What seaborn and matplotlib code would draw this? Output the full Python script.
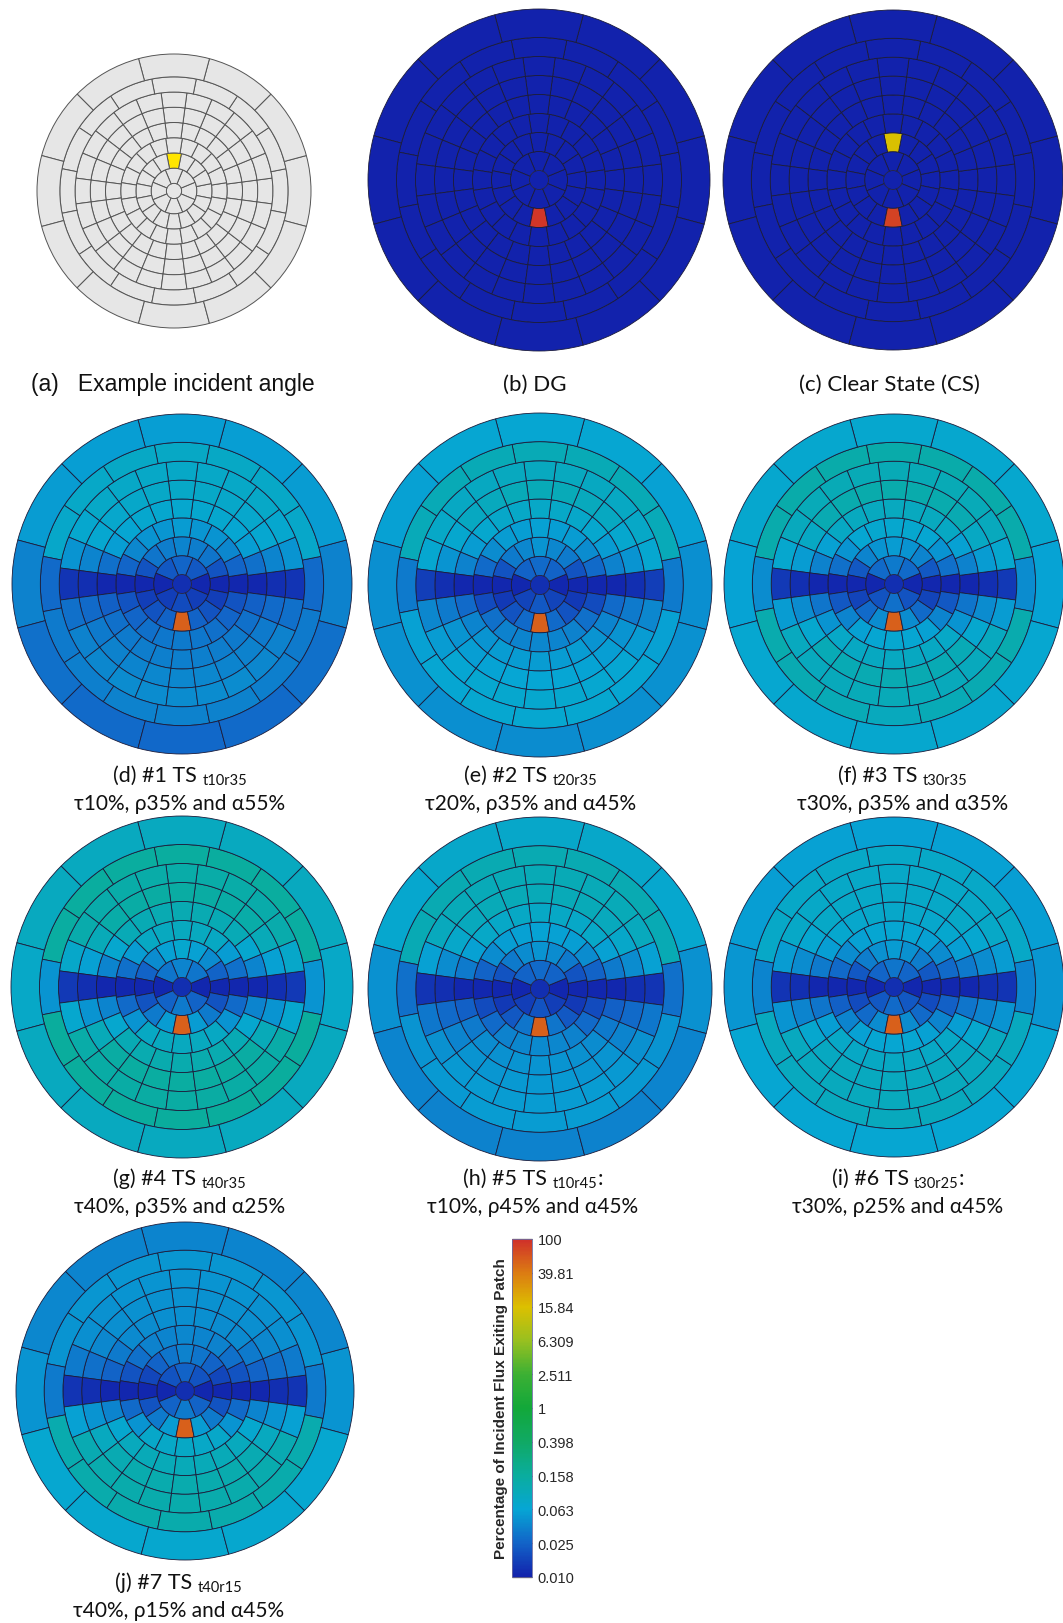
import numpy as np
import pandas as pd
import matplotlib
matplotlib.use("Agg")
import matplotlib.pyplot as plt
from matplotlib.colors import LogNorm
from matplotlib.cm import ScalarMappable
import seaborn as sns

sns.set_theme(style="white")
plt.rcParams["font.family"] = ["Lato", "Noto Sans", "DejaVu Sans"]

# ---------------------------------------------------------------------------
# Klems full basis: zenith-angle ring edges (deg) and patches per ring
klems_theta = [0, 5, 15, 25, 35, 45, 55, 65, 75, 90]
klems_nphi = [1, 8, 16, 20, 24, 24, 24, 16, 12]

# Colour bar scale (percentage of incident flux exiting patch)
cbar_ticks = [0.010, 0.025, 0.063, 0.158, 0.398, 1, 2.511, 6.309, 15.84, 39.81, 100]
cbar_labels = ["0.010", "0.025", "0.063", "0.158", "0.398", "1", "2.511",
               "6.309", "15.84", "39.81", "100"]
cbar_colors = ["#1222ac", "#1264c8", "#06a6d4", "#0aad9e", "#10a964", "#12a83a",
               "#3cb034", "#98c020", "#dcc000", "#dc7c12", "#d0302a"]

# Incident direction shown in panel (a): ring 3, patch at phi = 90 deg
incident_ring = 2
incident_patch = 4

# Double glazing
dg = [
    [0.010],
    [0.010] * 8,
    [0.010] * 12 + [90.0] + [0.010] * 3,
    [0.010] * 20,
    [0.010] * 24,
    [0.010] * 24,
    [0.010] * 24,
    [0.010] * 16,
    [0.010] * 12,
]

# Clear state
cs = [
    [0.010],
    [0.010] * 8,
    [0.010] * 4 + [15.0] + [0.010] * 7 + [80.0] + [0.010] * 3,
    [0.010] * 20,
    [0.010] * 24,
    [0.010] * 24,
    [0.010] * 24,
    [0.010] * 16,
    [0.010] * 12,
]

# #1 TS t10r35
ts1 = [
    [0.012],
    [0.011, 0.022, 0.026, 0.022, 0.011, 0.015, 0.018, 0.015],
    [0.011, 0.020, 0.032, 0.036, 0.040, 0.036, 0.032, 0.020, 0.011, 0.015, 0.020, 0.025, 55, 0.025, 0.020, 0.015],
    [0.011, 0.026, 0.042, 0.050, 0.052, 0.055, 0.052, 0.050, 0.042, 0.026, 0.011, 0.020, 0.026, 0.030, 0.033, 0.034, 0.033, 0.030, 0.026, 0.020],
    [0.011, 0.030, 0.058, 0.066, 0.070, 0.072, 0.072, 0.072, 0.070, 0.066, 0.058, 0.030, 0.011, 0.024, 0.030, 0.034, 0.036, 0.037, 0.037, 0.037, 0.036, 0.034, 0.030, 0.024],
    [0.012, 0.040, 0.068, 0.074, 0.076, 0.078, 0.078, 0.078, 0.076, 0.074, 0.068, 0.040, 0.012, 0.028, 0.034, 0.038, 0.040, 0.041, 0.041, 0.041, 0.040, 0.038, 0.034, 0.028],
    [0.013, 0.050, 0.072, 0.078, 0.080, 0.080, 0.080, 0.080, 0.080, 0.078, 0.072, 0.050, 0.013, 0.030, 0.038, 0.042, 0.044, 0.045, 0.045, 0.045, 0.044, 0.042, 0.038, 0.030],
    [0.028, 0.075, 0.080, 0.082, 0.082, 0.082, 0.080, 0.075, 0.028, 0.034, 0.037, 0.038, 0.038, 0.038, 0.037, 0.034],
    [0.038, 0.055, 0.058, 0.058, 0.058, 0.055, 0.038, 0.030, 0.028, 0.027, 0.028, 0.030],
]

# #2 TS t20r35
ts2 = [
    [0.012],
    [0.011, 0.025, 0.028, 0.025, 0.011, 0.016, 0.022, 0.016],
    [0.011, 0.020, 0.034, 0.042, 0.050, 0.042, 0.034, 0.020, 0.011, 0.014, 0.020, 0.028, 55, 0.028, 0.020, 0.014],
    [0.011, 0.028, 0.045, 0.055, 0.058, 0.060, 0.058, 0.055, 0.045, 0.028, 0.011, 0.018, 0.030, 0.038, 0.040, 0.042, 0.040, 0.038, 0.030, 0.018],
    [0.011, 0.038, 0.055, 0.072, 0.075, 0.078, 0.078, 0.078, 0.075, 0.072, 0.055, 0.038, 0.011, 0.028, 0.040, 0.050, 0.055, 0.056, 0.056, 0.056, 0.055, 0.050, 0.040, 0.028],
    [0.012, 0.050, 0.070, 0.088, 0.095, 0.100, 0.100, 0.100, 0.095, 0.088, 0.070, 0.050, 0.012, 0.035, 0.050, 0.058, 0.062, 0.063, 0.063, 0.063, 0.062, 0.058, 0.050, 0.035],
    [0.015, 0.068, 0.080, 0.085, 0.088, 0.090, 0.090, 0.090, 0.088, 0.085, 0.080, 0.068, 0.015, 0.042, 0.055, 0.066, 0.068, 0.070, 0.070, 0.070, 0.068, 0.066, 0.055, 0.042],
    [0.035, 0.100, 0.105, 0.105, 0.105, 0.105, 0.105, 0.100, 0.035, 0.060, 0.066, 0.068, 0.068, 0.068, 0.066, 0.060],
    [0.046, 0.060, 0.065, 0.065, 0.065, 0.060, 0.046, 0.048, 0.046, 0.045, 0.046, 0.048],
]

# #3 TS t30r35
ts3 = [
    [0.012],
    [0.011, 0.028, 0.035, 0.028, 0.011, 0.020, 0.030, 0.020],
    [0.011, 0.022, 0.040, 0.050, 0.055, 0.050, 0.040, 0.022, 0.011, 0.016, 0.028, 0.045, 55, 0.045, 0.028, 0.016],
    [0.011, 0.030, 0.050, 0.065, 0.070, 0.072, 0.070, 0.065, 0.050, 0.030, 0.011, 0.022, 0.040, 0.060, 0.065, 0.068, 0.065, 0.060, 0.040, 0.022],
    [0.011, 0.038, 0.060, 0.085, 0.090, 0.092, 0.092, 0.092, 0.090, 0.085, 0.060, 0.038, 0.011, 0.032, 0.050, 0.080, 0.085, 0.088, 0.088, 0.088, 0.085, 0.080, 0.050, 0.032],
    [0.012, 0.055, 0.085, 0.115, 0.120, 0.125, 0.125, 0.125, 0.120, 0.115, 0.085, 0.055, 0.012, 0.045, 0.070, 0.105, 0.110, 0.112, 0.112, 0.112, 0.110, 0.105, 0.070, 0.045],
    [0.014, 0.070, 0.095, 0.100, 0.105, 0.105, 0.105, 0.105, 0.105, 0.100, 0.095, 0.070, 0.014, 0.055, 0.090, 0.095, 0.098, 0.100, 0.100, 0.100, 0.098, 0.095, 0.090, 0.055],
    [0.045, 0.125, 0.130, 0.130, 0.130, 0.130, 0.130, 0.125, 0.045, 0.120, 0.115, 0.105, 0.095, 0.105, 0.115, 0.120],
    [0.062, 0.070, 0.072, 0.072, 0.072, 0.070, 0.062, 0.068, 0.070, 0.070, 0.070, 0.068],
]

# #4 TS t40r35
ts4 = [
    [0.012],
    [0.011, 0.032, 0.040, 0.032, 0.011, 0.025, 0.035, 0.025],
    [0.011, 0.025, 0.045, 0.060, 0.070, 0.060, 0.045, 0.025, 0.011, 0.020, 0.035, 0.055, 55, 0.055, 0.035, 0.020],
    [0.011, 0.030, 0.055, 0.085, 0.090, 0.092, 0.090, 0.085, 0.055, 0.030, 0.011, 0.028, 0.050, 0.085, 0.090, 0.092, 0.090, 0.085, 0.050, 0.028],
    [0.011, 0.040, 0.070, 0.105, 0.110, 0.115, 0.115, 0.115, 0.110, 0.105, 0.070, 0.040, 0.011, 0.040, 0.070, 0.110, 0.118, 0.120, 0.120, 0.120, 0.118, 0.110, 0.070, 0.040],
    [0.012, 0.060, 0.100, 0.135, 0.140, 0.145, 0.145, 0.145, 0.140, 0.135, 0.100, 0.060, 0.012, 0.050, 0.100, 0.145, 0.150, 0.152, 0.152, 0.152, 0.150, 0.145, 0.100, 0.050],
    [0.014, 0.075, 0.125, 0.130, 0.135, 0.135, 0.135, 0.135, 0.135, 0.130, 0.125, 0.075, 0.014, 0.070, 0.135, 0.140, 0.142, 0.145, 0.145, 0.145, 0.142, 0.140, 0.135, 0.070],
    [0.050, 0.150, 0.155, 0.155, 0.155, 0.155, 0.155, 0.150, 0.050, 0.160, 0.160, 0.160, 0.160, 0.160, 0.160, 0.160],
    [0.080, 0.090, 0.092, 0.092, 0.092, 0.090, 0.080, 0.090, 0.092, 0.092, 0.092, 0.090],
]

# #5 TS t10r45
ts5 = [
    [0.012],
    [0.011, 0.025, 0.028, 0.025, 0.011, 0.015, 0.020, 0.015],
    [0.011, 0.020, 0.035, 0.045, 0.050, 0.045, 0.035, 0.020, 0.011, 0.014, 0.022, 0.032, 55, 0.032, 0.022, 0.014],
    [0.011, 0.025, 0.045, 0.058, 0.060, 0.062, 0.060, 0.058, 0.045, 0.025, 0.011, 0.018, 0.028, 0.038, 0.042, 0.043, 0.042, 0.038, 0.028, 0.018],
    [0.011, 0.035, 0.060, 0.078, 0.080, 0.082, 0.082, 0.082, 0.080, 0.078, 0.060, 0.035, 0.011, 0.024, 0.035, 0.045, 0.048, 0.050, 0.050, 0.050, 0.048, 0.045, 0.035, 0.024],
    [0.012, 0.045, 0.075, 0.095, 0.100, 0.102, 0.102, 0.102, 0.100, 0.095, 0.075, 0.045, 0.012, 0.028, 0.040, 0.050, 0.052, 0.054, 0.054, 0.054, 0.052, 0.050, 0.040, 0.028],
    [0.013, 0.060, 0.095, 0.100, 0.102, 0.105, 0.105, 0.105, 0.102, 0.100, 0.095, 0.060, 0.013, 0.033, 0.048, 0.054, 0.056, 0.056, 0.056, 0.056, 0.056, 0.054, 0.048, 0.033],
    [0.030, 0.110, 0.112, 0.112, 0.112, 0.112, 0.112, 0.110, 0.030, 0.050, 0.054, 0.055, 0.055, 0.055, 0.054, 0.050],
    [0.048, 0.070, 0.075, 0.075, 0.075, 0.070, 0.048, 0.040, 0.038, 0.038, 0.038, 0.040],
]

# #6 TS t30r25
ts6 = [
    [0.012],
    [0.011, 0.026, 0.032, 0.026, 0.011, 0.022, 0.028, 0.022],
    [0.011, 0.022, 0.036, 0.048, 0.055, 0.048, 0.036, 0.022, 0.011, 0.018, 0.028, 0.045, 55, 0.045, 0.028, 0.018],
    [0.011, 0.028, 0.045, 0.060, 0.065, 0.066, 0.065, 0.060, 0.045, 0.028, 0.011, 0.024, 0.040, 0.060, 0.065, 0.066, 0.065, 0.060, 0.040, 0.024],
    [0.011, 0.035, 0.058, 0.072, 0.074, 0.075, 0.075, 0.075, 0.074, 0.072, 0.058, 0.035, 0.011, 0.032, 0.058, 0.080, 0.082, 0.085, 0.085, 0.085, 0.082, 0.080, 0.058, 0.032],
    [0.012, 0.045, 0.068, 0.078, 0.080, 0.080, 0.080, 0.080, 0.080, 0.078, 0.068, 0.045, 0.012, 0.040, 0.070, 0.088, 0.090, 0.092, 0.092, 0.092, 0.090, 0.088, 0.070, 0.040],
    [0.013, 0.055, 0.078, 0.080, 0.080, 0.080, 0.080, 0.080, 0.080, 0.080, 0.078, 0.055, 0.013, 0.050, 0.090, 0.092, 0.095, 0.095, 0.095, 0.095, 0.095, 0.092, 0.090, 0.050],
    [0.040, 0.078, 0.080, 0.080, 0.080, 0.080, 0.080, 0.078, 0.040, 0.090, 0.092, 0.095, 0.095, 0.095, 0.092, 0.090],
    [0.052, 0.058, 0.060, 0.060, 0.060, 0.058, 0.052, 0.065, 0.066, 0.066, 0.066, 0.065],
]

# #7 TS t40r15
ts7 = [
    [0.012],
    [0.011, 0.020, 0.025, 0.020, 0.011, 0.025, 0.035, 0.025],
    [0.011, 0.017, 0.025, 0.032, 0.038, 0.032, 0.025, 0.017, 0.011, 0.020, 0.035, 0.055, 55, 0.055, 0.035, 0.020],
    [0.011, 0.020, 0.030, 0.038, 0.040, 0.042, 0.040, 0.038, 0.030, 0.020, 0.011, 0.028, 0.050, 0.075, 0.080, 0.082, 0.080, 0.075, 0.050, 0.028],
    [0.011, 0.025, 0.035, 0.043, 0.045, 0.046, 0.046, 0.046, 0.045, 0.043, 0.035, 0.025, 0.011, 0.040, 0.070, 0.095, 0.100, 0.102, 0.102, 0.102, 0.100, 0.095, 0.070, 0.040],
    [0.012, 0.030, 0.042, 0.046, 0.048, 0.048, 0.048, 0.048, 0.048, 0.046, 0.042, 0.030, 0.012, 0.050, 0.090, 0.115, 0.120, 0.122, 0.122, 0.122, 0.120, 0.115, 0.090, 0.050],
    [0.013, 0.035, 0.046, 0.048, 0.050, 0.050, 0.050, 0.050, 0.050, 0.048, 0.046, 0.035, 0.013, 0.060, 0.115, 0.120, 0.125, 0.125, 0.125, 0.125, 0.125, 0.120, 0.115, 0.060],
    [0.034, 0.050, 0.052, 0.052, 0.052, 0.052, 0.052, 0.050, 0.034, 0.120, 0.125, 0.125, 0.125, 0.125, 0.125, 0.120],
    [0.050, 0.042, 0.040, 0.040, 0.040, 0.042, 0.050, 0.068, 0.070, 0.070, 0.070, 0.068],
]

# ---------------------------------------------------------------------------
W, H = 1063, 1624
fig = plt.figure(figsize=(W / 100, H / 100), dpi=100)
fig.patch.set_facecolor("white")

cmap = sns.blend_palette(cbar_colors, as_cmap=True)
norm = LogNorm(vmin=0.01, vmax=100)


def px(x, y):
    return x / W, 1 - y / H


def patch_table(rings):
    rows = []
    for k, vals in enumerate(rings):
        n = klems_nphi[k]
        for i, v in enumerate(vals):
            rows.append(dict(ring=k, idx=i, phi=2 * np.pi * i / n, width=2 * np.pi / n,
                             lo=klems_theta[k], hi=klems_theta[k + 1], value=v))
    return pd.DataFrame(rows)


def basis_axes(cx, cy, r):
    x0, y0 = px(cx - r, cy + r)
    ax = fig.add_axes([x0, y0, 2 * r / W, 2 * r / H], projection="polar")
    ax.set_theta_zero_location("E")
    ax.set_theta_direction(1)
    ax.set_ylim(0, 90)
    ax.set_axis_off()
    return ax


def draw_basis(ax, df, colors, edgecolor, lw):
    for k, g in df.groupby("ring"):
        ax.bar(g["phi"], g["hi"] - g["lo"], width=g["width"], bottom=g["lo"],
               color=[colors[i] for i in g.index], edgecolor=edgecolor,
               linewidth=0 if k == 0 else lw, align="center", clip_on=False)


def draw_result(cx, cy, r, rings):
    ax = basis_axes(cx, cy, r)
    df = patch_table(rings)
    colors = list(cmap(norm(df["value"].to_numpy())))
    draw_basis(ax, df, colors, "#1b1b3a", 0.6)
    return ax


renderer = fig.canvas.get_renderer()


def centered_line(x, y, segments, family=None):
    """Place text segments (text, size, dy) side by side, centred on x."""
    arts, widths = [], []
    for s, fs, dy in segments:
        kw = {} if family is None else {"family": family}
        t = fig.text(0, 0, s, fontsize=fs, ha="left", va="baseline", color="#111111", **kw)
        widths.append(t.get_window_extent(renderer=renderer).width)
        arts.append((t, dy))
    start = x - sum(widths) / 2
    for (t, dy), w in zip(arts, widths):
        t.set_position(px(start, y + dy))
        start += w


# (a) example incident angle
ax_a = basis_axes(174, 192, 137)
df_a = patch_table([[0.0] * n for n in klems_nphi])
colors_a = ["#ffe500" if (rw.ring == incident_ring and rw.idx == incident_patch) else "#e6e6e6"
            for rw in df_a.itertuples()]
draw_basis(ax_a, df_a, colors_a, "#555555", 0.7)

# (b) DG and (c) CS
draw_result(539, 181, 171, dg)
draw_result(893, 181, 170, cs)

# Thermochromic states
draw_result(182, 585, 170, ts1)
draw_result(540, 586, 172, ts2)
draw_result(894, 585, 170, ts3)
draw_result(182, 988, 171, ts4)
draw_result(540, 990, 172, ts5)
draw_result(894, 988, 170, ts6)
draw_result(185, 1392, 169, ts7)

# Panel captions
lab = 15
sub = 10.5
centered_line(173, 391, [("(a)   Example incident angle", 16.5, 0)], family="Liberation Sans")
centered_line(535, 391, [("(b) DG", 16, 0)])
centered_line(889, 391, [("(c) Clear State (CS)", 16, 0)])

captions = [
    (180, 782, "(d) #1 TS", "t10r35", "", "τ10%, ρ35% and α55%"),
    (531, 782, "(e) #2 TS", "t20r35", "", "τ20%, ρ35% and α45%"),
    (903, 782, "(f) #3 TS", "t30r35", "", "τ30%, ρ35% and α35%"),
    (180, 1185, "(g) #4 TS", "t40r35", "", "τ40%, ρ35% and α25%"),
    (533, 1185, "(h) #5 TS", "t10r45", ":", "τ10%, ρ45% and α45%"),
    (898, 1185, "(i) #6 TS", "t30r25", ":", "τ30%, ρ25% and α45%"),
    (179, 1589, "(j) #7 TS", "t40r15", "", "τ40%, ρ15% and α45%"),
]
for x, y, main, subs, tail, line2 in captions:
    segs = [(main + " ", 15.5, 0), (subs, sub, 3)]
    if tail:
        segs.append((tail, 15.5, 0))
    centered_line(x, y, segs)
    centered_line(x, y + 28, [(line2, lab, 0)])

# Colour bar
cx0, cy0 = px(512, 1578)
cax = fig.add_axes([cx0, cy0, 20 / W, 338 / H])
cb = fig.colorbar(ScalarMappable(norm=norm, cmap=cmap), cax=cax)
cb.outline.set_linewidth(0.6)
cb.outline.set_edgecolor("#6a6aa0")
cax.minorticks_off()
cb.set_ticks(cbar_ticks)
cb.set_ticklabels(cbar_labels)
cax.tick_params(axis="y", which="major", direction="in", length=14.4, width=0.9,
                color="#2a2a2a", right=True, left=False, labelright=True,
                labelleft=False, pad=4, labelsize=10.5)
for t in cax.get_yticklabels():
    t.set_family("Liberation Sans")
cax.yaxis.set_label_position("left")
cax.set_ylabel("Percentage of Incident Flux Exiting Patch", fontsize=11,
               fontweight="bold", family="Liberation Sans", labelpad=3)

fig.savefig("out.png", dpi=100, facecolor="white")
